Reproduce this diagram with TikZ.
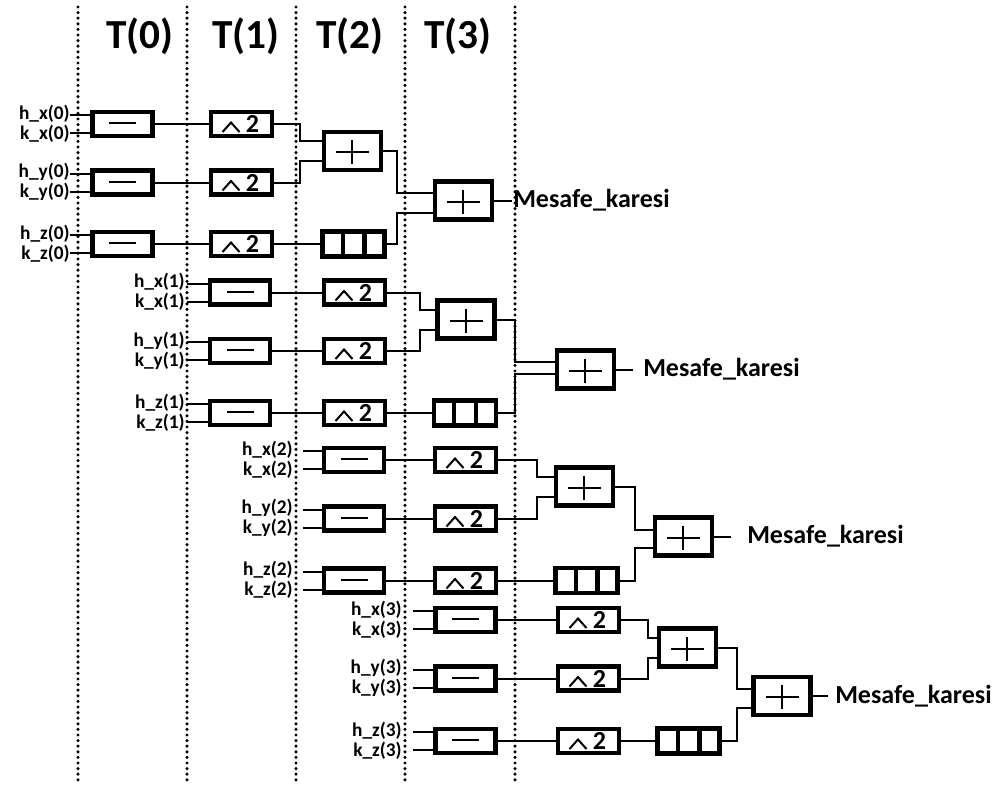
\documentclass[tikz,border=0pt]{standalone}
\usepackage{fontspec}
\setmainfont{Carlito}
\begin{document}
\begin{tikzpicture}[x=0.75pt,y=-0.75pt,
  box/.style={draw, line width=3.3pt, fill=white, inner sep=0pt},
  minusbox/.style={box, minimum width=45pt, minimum height=18pt},
  sqbox/.style={box, minimum width=45.75pt, minimum height=18pt},
  plusbox/.style={box, minimum width=42.75pt, minimum height=28.5pt},
  tribox/.style={box, minimum width=46.5pt, minimum height=18.75pt},
  wire/.style={line width=1.5pt},
  sym/.style={line width=1.5pt},
  divider/.style={line width=3.3pt},
  lbl/.style={font=\fontsize{14.5}{14.5}\selectfont\bfseries, inner sep=0pt, anchor=east},
  res/.style={font=\fontsize{19.5}{19.5}\selectfont\bfseries, inner sep=0pt, anchor=west},
  hdr/.style={font=\fontsize{31}{31}\selectfont\bfseries, inner sep=0pt},
  two/.style={font=\fontsize{19.5}{19.5}\selectfont\bfseries, inner sep=0pt, anchor=base},
  sep/.style={line width=2.6pt, dash pattern=on 0pt off 4.2pt, line cap=round}]
\useasboundingbox (0,0) rectangle (1000,785);
% separators
\foreach \xx/\nn in {78/a,187/b,296/c,405/d,515/e}{
  \coordinate (st\nn) at (\xx,7);
  \coordinate (sb\nn) at (\xx,782);
  \draw[sep] (st\nn) -- (sb\nn);
}
% headers
\node[hdr] (hd0) at (140,36) {T(0)};
\node[hdr] (hd1) at (246,36) {T(1)};
\node[hdr] (hd2) at (350,36) {T(2)};
\node[hdr] (hd3) at (458,36) {T(3)};
% groups
\foreach \g/\lx/\sx/\mx/\qx/\ra/\rb/\rc/\px/\pc/\ja/\tx/\fx/\fc/\jb/\ex/\wx/\fa/\fb in {
0/70/70/122.5/241.5/124/182.5/244/352.5/151/300/353.5/463.5/200.5/397/512/513/-7.5/12.5,
1/185/187/240/354.5/292.5/351/413/466/319.5/420/465/585.5/369.5/515/633/643/-8/4,
2/293/303/354/465.5/460/518.5/580.5/584.5/486.5/537/586.5/683.5/536.5/635/731/747/-6.5/11.5,
3/402/413/465.5/588.5/620/678.5/741/687.5/647.5/648/688.5/782/696/737/828/835/-7/12}{
  \foreach \rr/\ax/\yy in {a/x/\ra, b/y/\rb, c/z/\rc}{
    \node[lbl] (h\g\rr) at (\lx,\yy-10.5) {h\_\ax(\g)};
    \node[lbl] (k\g\rr) at (\lx,\yy+9.5) {k\_\ax(\g)};
    \coordinate (ih\g\rr) at (\sx,\yy-9);
    \coordinate (ik\g\rr) at (\sx,\yy+9);
    \node[minusbox] (m\g\rr) at (\mx,\yy) {};
    \draw[sym] ([shift={(-13.5,-1)}]m\g\rr.center) -- ([shift={(13.5,-1)}]m\g\rr.center);
    \node[sqbox] (s\g\rr) at (\qx,\yy) {};
    \draw[sym] ([shift={(-19,8)}]s\g\rr.center) -- ([shift={(-10.5,-1.5)}]s\g\rr.center) -- ([shift={(-2,8)}]s\g\rr.center);
    \node[two] (n\g\rr) at ([shift={(11,8.5)}]s\g\rr.center) {2};
    \draw[wire] (ih\g\rr) -- (m\g\rr.west |- ih\g\rr);
    \draw[wire] (ik\g\rr) -- (m\g\rr.west |- ik\g\rr);
    \draw[wire] (m\g\rr.east) -- (s\g\rr.west);
  }
  \node[plusbox] (p\g) at (\px,\pc) {};
  \draw[sym] ([shift={(-16.5,1)}]p\g.center) -- ([shift={(16.5,1)}]p\g.center);
  \draw[sym] ([shift={(-0.5,-11)}]p\g.center) -- ([shift={(-0.5,13)}]p\g.center);
  \node[tribox] (t\g) at (\tx,\rc) {};
  \draw[divider] ([shift={(-10.8,0)}]t\g.north) -- ([shift={(-10.8,0)}]t\g.south);
  \draw[divider] ([shift={(10.8,0)}]t\g.north) -- ([shift={(10.8,0)}]t\g.south);
  \node[plusbox] (f\g) at (\fx,\fc) {};
  \draw[sym] ([shift={(-16.5,1)}]f\g.center) -- ([shift={(16.5,1)}]f\g.center);
  \draw[sym] ([shift={(-0.5,-11)}]f\g.center) -- ([shift={(-0.5,13)}]f\g.center);
  \draw[wire] (s\g a.east) -- (\ja,\ra) |- ([shift={(0,-10)}]p\g.west);
  \draw[wire] (s\g b.east) -- (\ja,\rb) |- ([shift={(0,10)}]p\g.west);
  \draw[wire] (s\g c.east) -- (t\g.west);
  \draw[wire] (p\g.east) -- (\jb,\pc) |- ([shift={(0,\fa)}]f\g.west);
  \draw[wire] (t\g.east) -- (\jb,\rc) |- ([shift={(0,\fb)}]f\g.west);
  \coordinate (o\g) at (\ex,\fc);
  \draw[wire] (f\g.east) -- (o\g);
  \node[res] (r\g) at (\wx,\fc) {Mesafe\_karesi};
}
\end{tikzpicture}
\end{document}
